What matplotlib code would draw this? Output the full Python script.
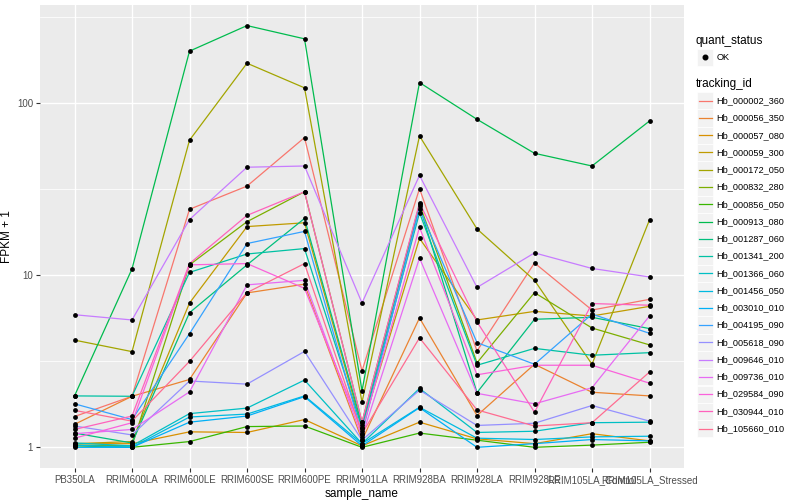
import matplotlib
matplotlib.use("Agg")
import matplotlib.pyplot as plt
import numpy as np
from matplotlib.lines import Line2D
from matplotlib.patches import Rectangle

plt.rcParams['font.family'] = ['Liberation Sans', 'DejaVu Sans']

samples = ["PB350LA", "RRIM600LA", "RRIM600LE", "RRIM600SE", "RRIM600PE",
           "RRIM901LA", "RRIM928BA", "RRIM928LA", "RRIM928LE",
           "RRIM105LA_Control", "RRIM105LA_Stressed"]

tracking_ids = ["Hb_000002_360", "Hb_000056_350", "Hb_000057_080", "Hb_000059_300",
                "Hb_000172_050", "Hb_000832_280", "Hb_000856_050", "Hb_000913_080",
                "Hb_001287_060", "Hb_001341_200", "Hb_001366_060", "Hb_001456_050",
                "Hb_003010_010", "Hb_004195_090", "Hb_005618_090", "Hb_009646_010",
                "Hb_009736_010", "Hb_029584_090", "Hb_030944_010", "Hb_105660_010"]

colors = ["#F8766D", "#EA8331", "#D89000", "#C09B00", "#A3A500", "#7CAE00",
          "#39B600", "#00BB4E", "#00BF7D", "#00C1A3", "#00BFC4", "#00BAE0",
          "#00B0F6", "#35A2FF", "#9590FF", "#C77CFF", "#E76BF3", "#FA62DB",
          "#FF62BC", "#FF6C91"]

hb_000002_360 = [1.51, 1.98, 24.2, 33.0, 63.2, 2.78, 31.9, 3.63, 11.8, 6.28, 7.25]
hb_000056_350 = [1.36, 1.98, 2.48, 7.9, 8.88, 1.1, 5.65, 1.53, 3.04, 2.09, 1.99]
hb_000057_080 = [1.05, 1.05, 1.23, 1.22, 1.45, 1.02, 1.40, 1.12, 1.05, 1.20, 1.09]
hb_000059_300 = [1.05, 1.08, 6.9, 19.2, 20.2, 1.3, 16.4, 5.5, 6.17, 5.8, 6.6]
hb_000172_050 = [4.2, 3.6, 61.0, 171.0, 123.0, 1.83, 64.6, 18.6, 9.35, 3.04, 21.0]
hb_000832_280 = [1.03, 1.02, 11.5, 20.5, 30.6, 1.4, 25.9, 3.1, 7.93, 4.94, 3.94]
hb_000856_050 = [1.02, 1.0, 1.08, 1.32, 1.33, 1.0, 1.21, 1.1, 1.0, 1.03, 1.07]
hb_000913_080 = [1.99, 10.9, 201.0, 283.0, 237.0, 2.13, 132.0, 80.7, 51.2, 43.2, 78.9]
hb_001287_060 = [1.21, 1.06, 6.06, 11.5, 21.4, 1.35, 25.3, 2.08, 5.55, 5.7, 4.9]
hb_001341_200 = [1.99, 1.98, 10.4, 13.3, 14.3, 1.3, 23.1, 3.0, 3.76, 3.43, 3.55]
hb_001366_060 = [1.06, 1.02, 1.57, 1.69, 2.46, 1.05, 2.2, 1.22, 1.24, 1.39, 1.40]
hb_001456_050 = [1.03, 1.0, 1.5, 1.56, 1.99, 1.05, 1.71, 1.13, 1.11, 1.15, 1.16]
hb_003010_010 = [1.0, 1.0, 1.40, 1.52, 1.97, 1.02, 1.70, 1.0, 1.05, 1.11, 1.09]
hb_004195_090 = [1.79, 1.45, 4.58, 15.3, 18.0, 1.2, 24.4, 4.06, 3.04, 5.95, 4.6]
hb_005618_090 = [1.33, 1.18, 2.43, 2.33, 3.61, 1.1, 2.15, 1.34, 1.38, 1.75, 1.42]
hb_009646_010 = [5.9, 5.5, 21.1, 42.5, 43.2, 6.9, 38.1, 8.5, 13.5, 10.96, 9.78]
hb_009736_010 = [1.2, 1.27, 2.1, 8.8, 9.35, 1.15, 12.6, 2.06, 1.79, 2.22, 5.8]
hb_029584_090 = [1.13, 1.39, 11.5, 11.7, 8.4, 1.25, 19.0, 2.64, 3.0, 3.0, 2.36]
hb_030944_010 = [1.27, 1.52, 11.7, 22.3, 30.6, 1.4, 26.4, 5.37, 1.6, 6.85, 6.7]
hb_105660_010 = [1.64, 1.42, 3.16, 7.93, 11.7, 1.2, 4.33, 1.65, 1.33, 1.39, 2.74]

series = [hb_000002_360, hb_000056_350, hb_000057_080, hb_000059_300, hb_000172_050,
          hb_000832_280, hb_000856_050, hb_000913_080, hb_001287_060, hb_001341_200,
          hb_001366_060, hb_001456_050, hb_003010_010, hb_004195_090, hb_005618_090,
          hb_009646_010, hb_009736_010, hb_029584_090, hb_030944_010, hb_105660_010]

W, H = 800, 500
fig = plt.figure(figsize=(8, 5), dpi=100)
fig.patch.set_facecolor("white")
ax = fig.add_axes([40 / W, 1 - 468.4 / H, (684 - 40) / W, (468.4 - 4.5) / H])
ax.set_facecolor("#EBEBEB")

x = np.arange(1, len(samples) + 1)
for vals, col in zip(series, colors):
    ax.plot(x, vals, color=col, lw=0.9, zorder=3, solid_capstyle="butt")
for vals in series:
    ax.scatter(x, vals, s=12, color="black", zorder=4, linewidths=0)

ax.set_yscale("log")
allv = np.log10(np.concatenate([np.array(s) for s in series]))
lo, hi = allv.min(), allv.max()
pad = 0.05 * (hi - lo)
ax.set_ylim(10 ** (lo - pad), 10 ** (hi + pad))
ax.set_xlim(0.4, len(samples) + 0.6)

ax.set_yticks([1, 10, 100])
ax.set_yticklabels(["1", "10", "100"])
ax.yaxis.set_minor_locator(matplotlib.ticker.NullLocator())
for v in [10 ** 0.5, 10 ** 1.5, 10 ** 2.5]:
    ax.axhline(v, color="white", lw=0.55, zorder=1)
ax.set_xticks(x)
ax.set_xticklabels(samples)
ax.grid(True, which="major", color="white", lw=1.0, zorder=1)
ax.set_axisbelow(True)
for sp in ax.spines.values():
    sp.set_visible(False)
ax.tick_params(axis="both", length=3, width=0.8, color="#333333",
               labelcolor="#4D4D4D", labelsize=7, pad=2)
ax.set_xlabel("sample_name", fontsize=8.5, color="black", labelpad=2)
ax.set_ylabel("FPKM + 1", fontsize=8.5, color="black", labelpad=3)
ax.yaxis.set_label_coords(-(40 - 13) / (684 - 40), 0.5)

# legend
def fx(px):
    return px / W

def fy(py):
    return 1 - py / H

fig.text(fx(696), fy(40.7), "quant_status", fontsize=8.5, va="center", ha="left")
fig.add_artist(Rectangle((fx(697.3), fy(65.8)), 15.4 / W, 17.2 / H,
                         facecolor="#F2F2F2", edgecolor="white", lw=0.5,
                         transform=fig.transFigure))
fig.add_artist(Line2D([fx(705)], [fy(57.2)], marker="o", markersize=3.3,
                      color="black", lw=0, transform=fig.transFigure))
fig.text(fx(716.7), fy(57.2), "OK", fontsize=6.6, va="center", ha="left")

fig.text(fx(696), fy(84.3), "tracking_id", fontsize=8.5, va="center", ha="left")
for i, (name, col) in enumerate(zip(tracking_ids, colors)):
    cy = 100.7 + 17.26 * i
    fig.add_artist(Rectangle((fx(697.3), fy(cy + 8.6)), 15.4 / W, 17.2 / H,
                             facecolor="#F2F2F2", edgecolor="white", lw=0.5,
                             transform=fig.transFigure))
    fig.add_artist(Line2D([fx(698.5), fx(711.5)], [fy(cy), fy(cy)], color=col,
                          lw=0.9, transform=fig.transFigure))
    fig.text(fx(716.7), fy(cy), name, fontsize=6.6, va="center", ha="left")

fig.savefig("out.png", dpi=100)
